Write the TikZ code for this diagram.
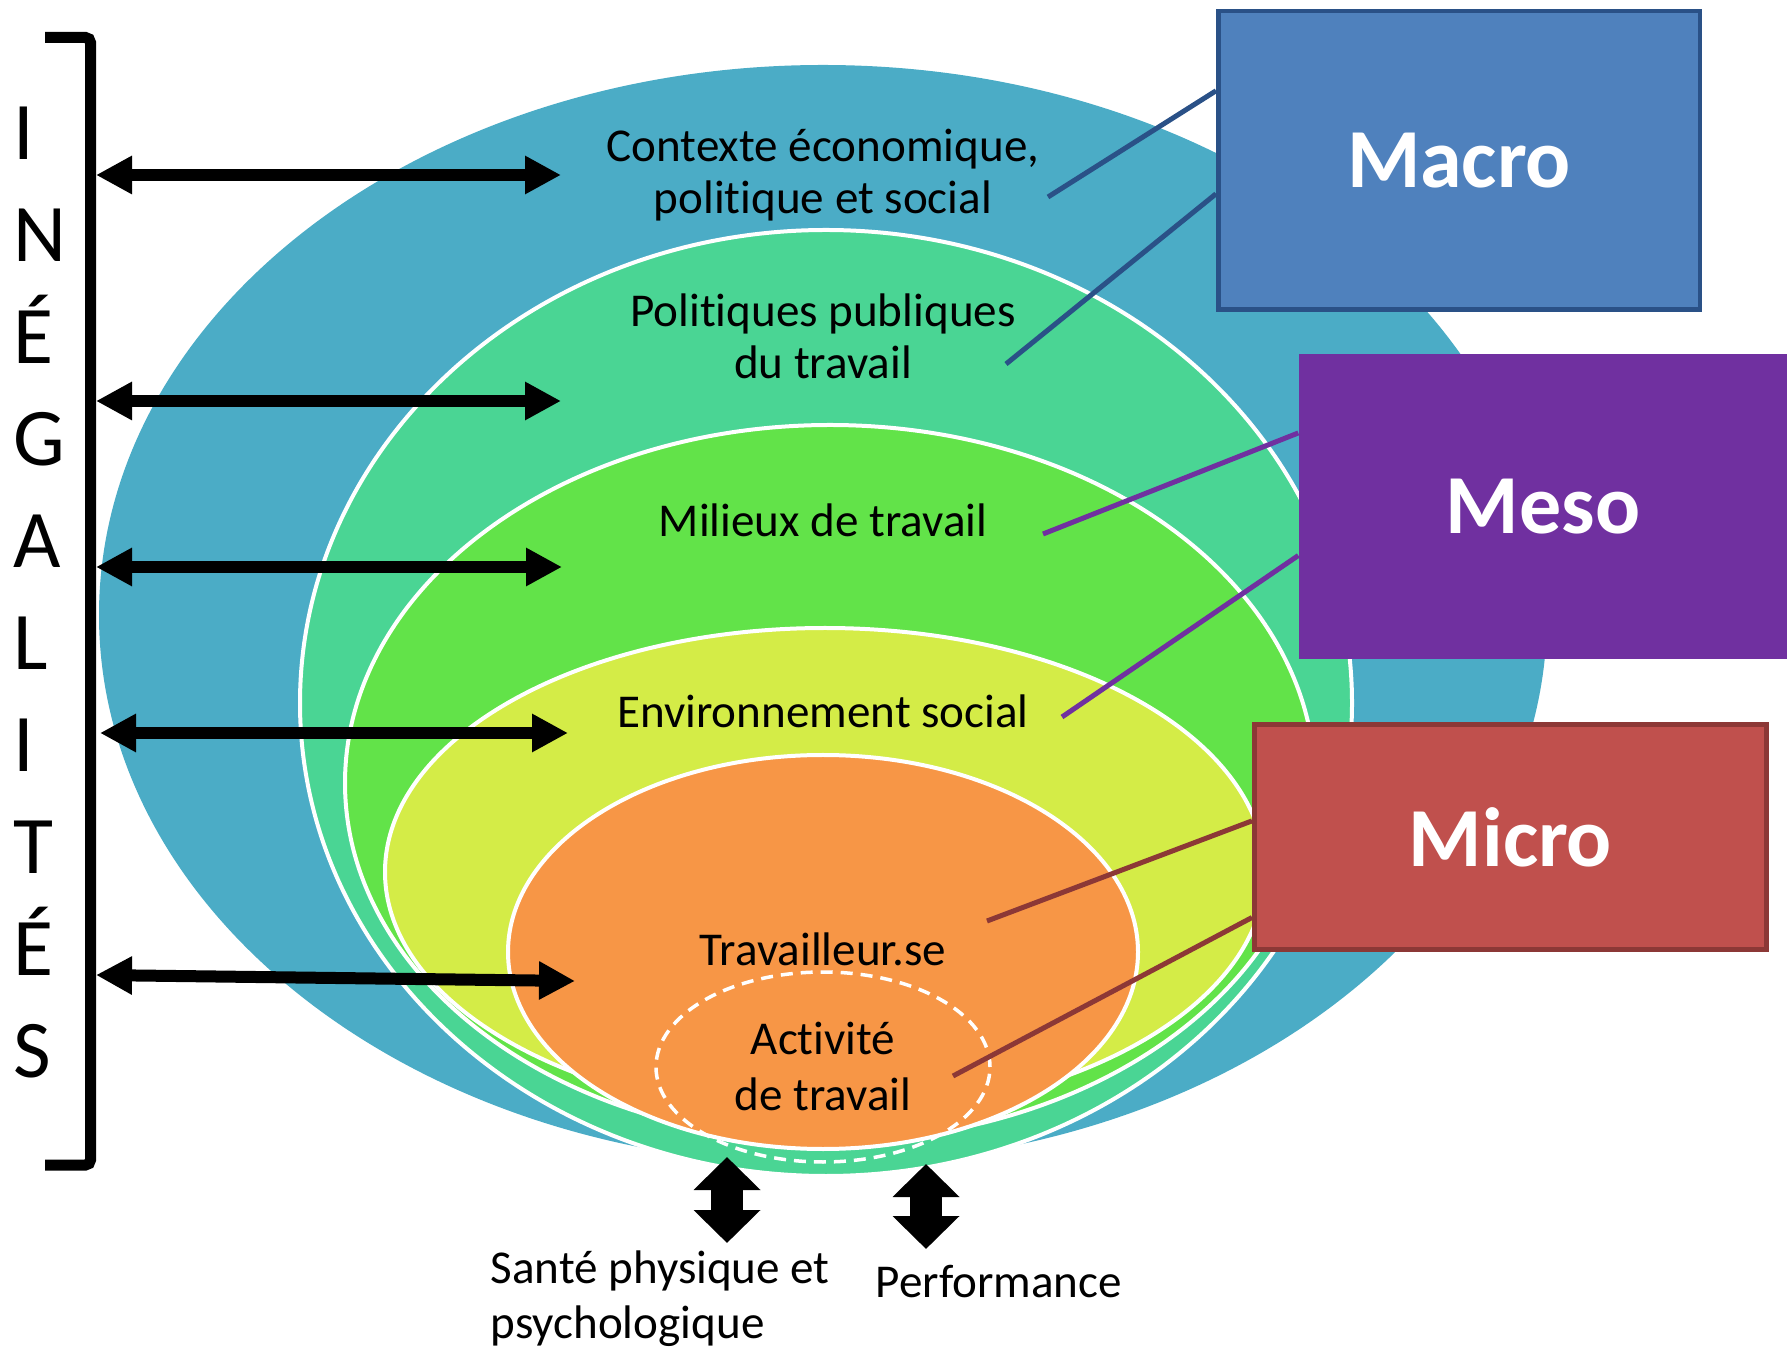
\documentclass[tikz,border=0pt]{standalone}
\usepackage{fontspec}
\setmainfont[Ligatures=NoCommon]{Carlito}
\usetikzlibrary{arrows.meta,calc}
\definecolor{levelblue}{HTML}{4BACC6}
\definecolor{levelteal}{HTML}{4AD594}
\definecolor{levelgreen}{HTML}{62E349}
\definecolor{levelyellow}{HTML}{D4EC47}
\definecolor{levelorange}{HTML}{F79646}
\definecolor{macrofill}{HTML}{4F81BD}
\definecolor{macroline}{HTML}{2A5187}
\definecolor{mesofill}{HTML}{7030A0}
\definecolor{microfill}{HTML}{C0504D}
\definecolor{microline}{HTML}{8C3836}

\begin{document}
\begin{tikzpicture}[
    ring/.style={draw=white,line width=0.04cm},
    levtext/.style={font=\fontsize{13.4}{14.8}\selectfont,align=center,anchor=base,inner sep=0pt},
    letter/.style={font=\fontsize{23.3}{28}\selectfont,anchor=base west,inner sep=0pt},
    levelbox/.style={rectangle,font=\fontsize{23.9}{28}\selectfont\bfseries,text=white},
    twoway/.style={{Triangle[length=0.36cm,width=0.36cm]}-{Triangle[length=0.36cm,width=0.36cm]},line width=0.12cm},
    updown/.style={{Triangle[length=0.33cm,width=0.65cm]}-{Triangle[length=0.33cm,width=0.65cm]},line width=0.32cm},
    boxline/.style={line width=0.05cm}]
    \useasboundingbox (0,0) rectangle (17.87,-13.52);

    % nested levels
    \fill[levelblue] (8.23,-6.15) ellipse [x radius=7.24,y radius=5.50];
    \filldraw[ring,fill=levelteal] (8.26,-7.03) ellipse [x radius=5.26,y radius=4.73];
    \filldraw[ring,fill=levelgreen] (8.30,-7.83) ellipse [x radius=4.85,y radius=3.58];
    \filldraw[ring,fill=levelyellow] (8.25,-8.72) ellipse [x radius=4.40,y radius=2.44];
    \filldraw[ring,fill=levelorange] (8.23,-9.52) ellipse [x radius=3.15,y radius=1.97];
    \draw[white,line width=0.035cm,dash pattern=on 0.12cm off 0.08cm] (8.23,-10.67) ellipse [x radius=1.67,y radius=0.95];

    % (multi-line nodes: base = last line)
    \node (context) at (8.23,-2.14) [levtext] {Contexte économique,\\politique et social};
    \node (policy)  at (8.23,-3.79) [levtext] {Politiques publiques\\du travail};
    \node (milieu)  at (8.23,-5.37) [levtext] {Milieux de travail};
    \node (social)  at (8.23,-7.28) [levtext] {Environnement social};
    \node (worker)  at (8.23,-9.66) [levtext] {Travailleur.se};
    \node (activity) at (8.23,-11.10) [levtext,font=\fontsize{13.4}{15.8}\selectfont] {Activité\\de travail};

    % boxes on the right
    \node (macro) at (14.59,-1.605) [levelbox,fill=macrofill,draw=macroline,line width=0.045cm,minimum width=4.815cm,minimum height=2.985cm] {Macro};
    \node (meso)  at (15.43,-5.065) [levelbox,fill=mesofill,minimum width=4.88cm,minimum height=3.05cm] {Meso};
    \node (micro) at (15.105,-8.37) [levelbox,fill=microfill,draw=microline,line width=0.05cm,minimum width=5.12cm,minimum height=2.25cm] {Micro};

    \coordinate (contexthook) at (10.48,-1.97);
    \coordinate (policyhook)  at (10.06,-3.64);
    \coordinate (milieuhook)  at (10.43,-5.34);
    \coordinate (socialhook)  at (10.62,-7.17);
    \coordinate (workerhook)  at (9.87,-9.21);
    \coordinate (activityhook) at (9.53,-10.76);
    \draw[boxline,macroline] (contexthook) -- ($(macro.north west)!0.27!(macro.south west)$);
    \draw[boxline,macroline] (policyhook)  -- ($(macro.north west)!0.61!(macro.south west)$);
    \draw[boxline,mesofill]  (milieuhook)  -- ($(meso.north west)!0.26!(meso.south west)$);
    \draw[boxline,mesofill]  (socialhook)  -- ($(meso.north west)!0.66!(meso.south west)$);
    \draw[line width=0.05cm,microline] (workerhook)   -- ($(micro.north west)!0.43!(micro.south west)$);
    \draw[line width=0.05cm,microline] (activityhook) -- ($(micro.north west)!0.85!(micro.south west)$);

    % inequalities bracket
    \draw[line width=0.11cm,rounded corners=0.05cm] (0.45,-0.375) -- (0.905,-0.375) -- (0.905,-11.65) -- (0.45,-11.65);
    \foreach \ch [count=\i from 0] in {I,N,É,G,A,L,I,T,É,S}
        \node (letter\i) at (0.13,{-1.60-1.019*\i}) [letter] {\ch};

    \coordinate (ineq1) at (0.96,-1.75);
    \coordinate (ineq2) at (0.96,-4.01);
    \coordinate (ineq3) at (0.96,-5.67);
    \coordinate (ineq4) at (1.00,-7.33);
    \coordinate (ineq5) at (0.96,-9.75);
    \coordinate (contextin) at (5.61,-1.75);
    \coordinate (policyin)  at (5.61,-4.01);
    \coordinate (milieuin)  at (5.62,-5.67);
    \coordinate (socialin)  at (5.68,-7.33);
    \coordinate (workerin)  at (5.75,-9.81);
    \draw[twoway] (ineq1) -- (contextin);
    \draw[twoway] (ineq2) -- (policyin);
    \draw[twoway] (ineq3) -- (milieuin);
    \draw[twoway] (ineq4) -- (socialin);
    \draw[twoway] (ineq5) -- (workerin);

    % outcomes
    \node (health) at (4.90,-13.38) [levtext,anchor=base west,align=left,font=\fontsize{13.4}{15.6}\selectfont] {Santé physique et\\psychologique};
    \node (perf)   at (8.75,-12.97) [levtext,anchor=base west] {Performance};
    \coordinate (healthtop) at (7.27,-11.57);
    \coordinate (healthbot) at (7.27,-12.43);
    \coordinate (perftop)   at (9.26,-11.64);
    \coordinate (perfbot)   at (9.26,-12.49);
    \draw[updown] (healthtop) -- (healthbot);
    \draw[updown] (perftop) -- (perfbot);
\end{tikzpicture}
\end{document}
